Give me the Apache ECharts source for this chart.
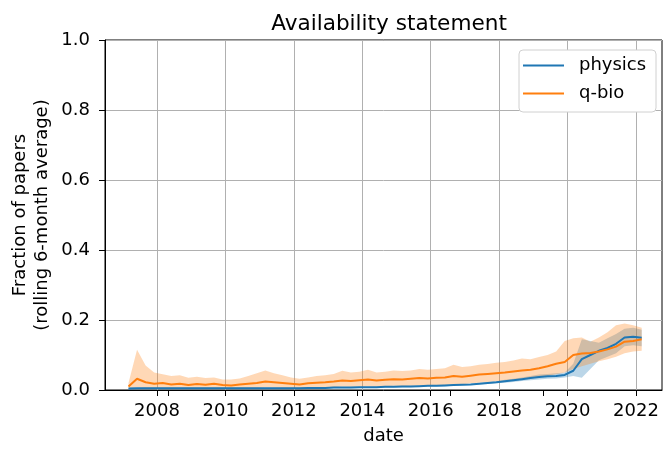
<!DOCTYPE html>
<html>
<head>
<meta charset="utf-8">
<script src="https://cdn.jsdelivr.net/npm/echarts@6/dist/echarts.min.js"></script>
<style>
  html, body { margin: 0; padding: 0; background: #fff; }
  #chart { width: 664px; height: 450px; }
</style>
</head>
<body>
<div id="chart"></div>
<script>
// quarterly samples, first one is March 2007
const startYear = 2007
const startMonth = 3
const xTicks = [2008, 2010, 2012, 2014, 2016, 2018, 2020, 2022]
// stray short ticks that sit on the reference's date axis
const extraTicks = [2008.32, 2011.08, 2013.84, 2016.56, 2019.3]

const physics = [
  0.004, 0.005, 0.005, 0.005, 0.005, 0.005, 0.005, 0.005, 0.005, 0.005,
  0.005, 0.005, 0.005, 0.005, 0.005, 0.005, 0.005, 0.005, 0.005, 0.005,
  0.005, 0.006, 0.006, 0.006, 0.007, 0.007, 0.007, 0.008, 0.008, 0.008,
  0.009, 0.009, 0.010, 0.010, 0.011, 0.012, 0.012, 0.013, 0.014, 0.015,
  0.016, 0.018, 0.020, 0.022, 0.025, 0.028, 0.031, 0.034, 0.037, 0.039,
  0.040, 0.043, 0.055, 0.088, 0.100, 0.112, 0.120, 0.132, 0.150, 0.152,
  0.149
]
const physicsLow = [
  0.002, 0.003, 0.003, 0.003, 0.003, 0.003, 0.003, 0.003, 0.003, 0.003,
  0.003, 0.003, 0.003, 0.003, 0.003, 0.003, 0.003, 0.003, 0.003, 0.003,
  0.003, 0.004, 0.004, 0.004, 0.005, 0.005, 0.005, 0.006, 0.006, 0.006,
  0.007, 0.007, 0.008, 0.008, 0.009, 0.010, 0.010, 0.011, 0.012, 0.013,
  0.014, 0.016, 0.017, 0.019, 0.021, 0.023, 0.026, 0.028, 0.030, 0.032,
  0.033, 0.036, 0.040, 0.035, 0.060, 0.085, 0.095, 0.105, 0.125, 0.128,
  0.125
]
const physicsHigh = [
  0.006, 0.007, 0.007, 0.007, 0.007, 0.007, 0.007, 0.007, 0.007, 0.007,
  0.007, 0.007, 0.007, 0.007, 0.007, 0.007, 0.007, 0.007, 0.007, 0.007,
  0.007, 0.008, 0.008, 0.008, 0.009, 0.009, 0.009, 0.010, 0.010, 0.010,
  0.011, 0.011, 0.012, 0.012, 0.013, 0.014, 0.014, 0.015, 0.016, 0.017,
  0.018, 0.020, 0.023, 0.025, 0.029, 0.032, 0.036, 0.040, 0.044, 0.046,
  0.048, 0.050, 0.075, 0.145, 0.140, 0.135, 0.148, 0.160, 0.175, 0.178,
  0.172
]

const qbio = [
  0.010, 0.032, 0.022, 0.018, 0.020, 0.016, 0.018, 0.014, 0.017, 0.015,
  0.018, 0.014, 0.013, 0.016, 0.018, 0.020, 0.024, 0.022, 0.020, 0.018,
  0.016, 0.019, 0.021, 0.022, 0.024, 0.027, 0.026, 0.028, 0.030, 0.027,
  0.029, 0.031, 0.030, 0.032, 0.034, 0.033, 0.035, 0.036, 0.040, 0.038,
  0.041, 0.044, 0.046, 0.048, 0.050, 0.053, 0.056, 0.058, 0.062, 0.068,
  0.075, 0.080, 0.100, 0.104, 0.106, 0.110, 0.116, 0.124, 0.138, 0.140,
  0.145
]
const qbioLow = [
  0.004, 0.008, 0.006, 0.005, 0.006, 0.005, 0.005, 0.004, 0.005, 0.004,
  0.005, 0.004, 0.003, 0.004, 0.005, 0.006, 0.008, 0.007, 0.006, 0.005,
  0.004, 0.005, 0.006, 0.006, 0.008, 0.010, 0.009, 0.010, 0.011, 0.009,
  0.010, 0.012, 0.011, 0.012, 0.013, 0.012, 0.014, 0.014, 0.016, 0.016,
  0.019, 0.021, 0.023, 0.025, 0.027, 0.029, 0.032, 0.034, 0.037, 0.041,
  0.045, 0.050, 0.060, 0.068, 0.075, 0.082, 0.088, 0.095, 0.105, 0.110,
  0.112
]
const qbioHigh = [
  0.020, 0.115, 0.070, 0.050, 0.045, 0.040, 0.042, 0.035, 0.038, 0.034,
  0.036, 0.030, 0.030, 0.033, 0.040, 0.048, 0.056, 0.048, 0.042, 0.036,
  0.032, 0.036, 0.040, 0.042, 0.046, 0.055, 0.050, 0.052, 0.058, 0.050,
  0.052, 0.056, 0.054, 0.056, 0.060, 0.058, 0.060, 0.062, 0.072, 0.066,
  0.068, 0.072, 0.074, 0.078, 0.080, 0.084, 0.090, 0.088, 0.094, 0.100,
  0.110, 0.140, 0.148, 0.150, 0.138, 0.150, 0.165, 0.185, 0.190, 0.185,
  0.178
]

// decimal year of every sample
const dates = physics.map((v, i) => startYear + (startMonth - 1 + 3 * i) / 12)

const blue = '#1f77b4'
const orange = '#ff7f0e'
const font = 'DejaVu Sans'
const xMin = 2006.48
const xMax = 2022.76

// filled band between low and high, drawn as one polygon
function band(low, high, color) {
  return {
    type: 'custom',
    silent: true,
    data: dates.map((d, i) => [d, low[i], high[i]]),
    encode: { x: 0, y: [1, 2] },
    z: 1,
    renderItem: (params, api) => {
      if (params.dataIndex !== 0) return null
      const top = dates.map((d, i) => api.coord([d, high[i]]))
      const bottom = dates.map((d, i) => api.coord([d, low[i]])).reverse()
      return {
        type: 'polygon',
        shape: { points: top.concat(bottom) },
        style: { fill: color, opacity: 0.3 }
      }
    }
  }
}

const chart = echarts.init(document.getElementById('chart'))

const option = {
  animation: false,
  textStyle: { fontFamily: font },
  title: {
    text: 'Availability statement',
    left: 384, top: 8, textAlign: 'center',
    textStyle: { fontFamily: font, fontSize: 21.6, fontWeight: 'normal', color: '#000' }
  },
  legend: {
    data: ['physics', 'q-bio'],
    orient: 'vertical',
    left: 523, top: 55,
    padding: 0,
    itemGap: 7,
    itemWidth: 41,
    itemHeight: 2,
    icon: 'rect',
    textStyle: {
      fontFamily: font, fontSize: 18, color: '#000', lineHeight: 21,
      padding: [0, 0, 0, 10]
    }
  },
  grid: {
    left: 105, right: 2, top: 40, bottom: 59,
    show: true, borderColor: '#000', borderWidth: 1
  },
  xAxis: [
    {
      type: 'value',
      min: xMin, max: xMax,
      name: 'date',
      nameLocation: 'middle',
      nameGap: 37,
      nameTextStyle: { fontFamily: font, fontSize: 18, color: '#000' },
      axisLine: { lineStyle: { color: '#000', width: 1 } },
      axisTick: { customValues: xTicks, length: 6, lineStyle: { color: '#000' } },
      axisLabel: {
        customValues: xTicks, fontFamily: font, fontSize: 18, color: '#000', margin: 12,
        formatter: v => String(v)
      },
      splitLine: { show: true, lineStyle: { color: '#b0b0b0', width: 1 } }
    },
    {
      type: 'value',
      min: xMin, max: xMax,
      position: 'bottom',
      axisLine: { show: false },
      axisTick: { customValues: extraTicks, length: 6, lineStyle: { color: '#000' } },
      axisLabel: { show: false },
      splitLine: { show: false }
    }
  ],
  yAxis: {
    type: 'value',
    min: 0, max: 1, interval: 0.2,
    axisLine: { show: true, lineStyle: { color: '#000', width: 1 } },
    axisTick: { show: true, length: 6, lineStyle: { color: '#000' } },
    axisLabel: {
      fontFamily: font, fontSize: 18, color: '#000', margin: 15,
      formatter: v => v.toFixed(1)
    },
    splitLine: { show: true, lineStyle: { color: '#b0b0b0', width: 1 } }
  },
  graphic: [
    {
      // legend frame
      type: 'rect',
      z: 3,
      shape: { x: 519, y: 50, width: 137, height: 62, r: 4 },
      style: { fill: '#fff', stroke: '#d0d0d0', lineWidth: 1 }
    },
    {
      type: 'text',
      x: 31, y: 215,
      rotation: Math.PI / 2,
      style: {
        text: 'Fraction of papers\n(rolling 6-month average)',
        font: '18px "DejaVu Sans"',
        fill: '#000',
        align: 'center',
        verticalAlign: 'middle',
        lineHeight: 22
      }
    }
  ],
  series: [
    band(physicsLow, physicsHigh, blue),
    band(qbioLow, qbioHigh, orange),
    {
      type: 'line', name: 'physics', data: physics.map((v, i) => [dates[i], v]),
      symbol: 'none', color: blue, lineStyle: { color: blue, width: 2 }, z: 3
    },
    {
      type: 'line', name: 'q-bio', data: qbio.map((v, i) => [dates[i], v]),
      symbol: 'none', color: orange, lineStyle: { color: orange, width: 2 }, z: 4
    }
  ]
}

chart.setOption(option)
</script>
</body>
</html>
